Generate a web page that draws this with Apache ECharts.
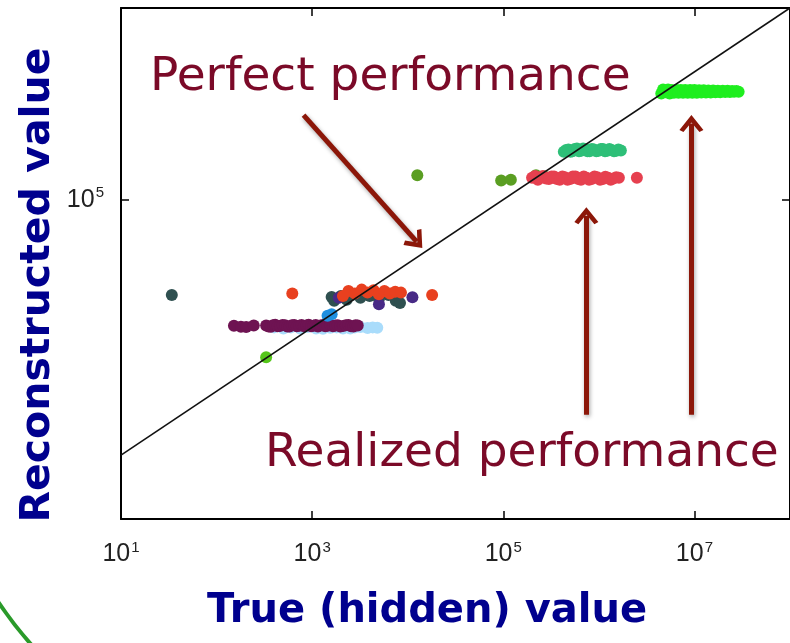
<!DOCTYPE html>
<html>
<head>
<meta charset="utf-8">
<script src="https://cdn.jsdelivr.net/npm/echarts@6/dist/echarts.min.js"></script>
<style>
html,body{margin:0;padding:0;background:#fff;}
#chart{width:790px;height:643px;}
</style>
</head>
<body>
<div id="chart"></div>
<script>
// ---- Data ----
var xTicks = [10, 1e3, 1e5, 1e7];
var yTicks = [1e5];

var perfectLine = [[10, 10], [1e8, 1e8]];

var lightBlue = [[400, 1000], [500, 960], [600, 1000], [750, 960], [900, 1010], [1100, 960], [1300, 950], [1550, 990], [1800, 1000], [2100, 960], [2500, 960], [2800, 1000], [3200, 1010], [3800, 980], [4300, 1000], [4800, 990]];
var purple = [[152, 1060], [180, 1020], [204, 1010], [245, 1070], [330, 1070], [350, 1030], [370, 1020], [390, 1080], [410, 1100], [435, 1040], [460, 1050], [490, 1090], [520, 1080], [550, 1030], [580, 1030], [615, 1080], [650, 1090], [690, 1040], [730, 1060], [775, 1090], [820, 1040], [870, 1070], [920, 1100], [975, 1040], [1030, 1060], [1090, 1090], [1150, 1030], [1220, 1070], [1300, 1090], [1370, 1040], [1450, 1060], [1550, 1090], [1650, 1040], [1750, 1070], [1850, 1080], [1970, 1030], [2100, 1050], [2250, 1080], [2400, 1090], [2550, 1040], [2700, 1030], [2850, 1080], [3000, 1070]];
var blue = [[1450, 1520], [1600, 1600]];
var lime = [[330, 340]];
var darkSlate = [[34, 3200], [1600, 3000], [1700, 2600], [2000, 3100], [2300, 2700], [2600, 3200], [3200, 2900], [4000, 3100], [5000, 2800], [6300, 3200], [7500, 2600], [8300, 2400]];
var indigo = [[1900, 2900], [5000, 2300], [11200, 2950]];
var redOrange = [[620, 3400], [2100, 3100], [2400, 3700], [2800, 3400], [3300, 3900], [3800, 3500], [4400, 3800], [5000, 3300], [5700, 3700], [6500, 3400], [7400, 3600], [8500, 3500], [18000, 3200]];
var olive = [[12600, 2.4e5], [95000, 2.0e5], [120000, 2.05e5], [220000, 2.4e5], [270000, 2.3e5]];
var red = [[2.0e5, 2.2e5], [2.15e5, 2.35e5], [2.3e5, 2.05e5], [2.45e5, 2.2e5], [2.6e5, 2.35e5], [2.8e5, 2.15e5], [3.0e5, 2.1e5], [3.2e5, 2.3e5], [3.4e5, 2.3e5], [3.65e5, 2.1e5], [3.9e5, 2.05e5], [4.15e5, 2.3e5], [4.4e5, 2.25e5], [4.7e5, 2.05e5], [5.0e5, 2.1e5], [5.35e5, 2.3e5], [5.7e5, 2.3e5], [6.1e5, 2.1e5], [6.5e5, 2.05e5], [6.95e5, 2.3e5], [7.4e5, 2.2e5], [7.9e5, 2.05e5], [8.4e5, 2.1e5], [9.0e5, 2.3e5], [9.6e5, 2.25e5], [1.03e6, 2.05e5], [1.1e6, 2.1e5], [1.17e6, 2.28e5], [1.25e6, 2.2e5], [1.33e6, 2.05e5], [1.42e6, 2.15e5], [1.52e6, 2.25e5], [1.62e6, 2.2e5], [2.5e6, 2.2e5]];
var teal = [[4.3e5, 5.6e5], [4.55e5, 6.0e5], [4.8e5, 6.1e5], [5.05e5, 5.6e5], [5.3e5, 5.7e5], [5.6e5, 6.2e5], [5.9e5, 6.3e5], [6.2e5, 5.7e5], [6.5e5, 5.8e5], [6.85e5, 6.3e5], [7.2e5, 6.2e5], [7.6e5, 5.7e5], [8.0e5, 5.7e5], [8.45e5, 6.2e5], [8.9e5, 6.1e5], [9.4e5, 5.7e5], [9.9e5, 5.8e5], [1.05e6, 6.2e5], [1.1e6, 6.2e5], [1.16e6, 5.7e5], [1.22e6, 5.8e5], [1.29e6, 6.2e5], [1.36e6, 6.0e5], [1.44e6, 5.7e5], [1.52e6, 5.8e5], [1.6e6, 6.1e5], [1.7e6, 5.9e5]];
var brightGreen = [[4.5e6, 4.6e6], [4.7e6, 5.3e6], [5.0e6, 4.8e6], [5.3e6, 5.3e6], [5.5e6, 4.6e6], [5.8e6, 5.2e6], [6.1e6, 4.7e6], [6.5e6, 5.2e6], [6.8e6, 4.7e6], [7.2e6, 5.2e6], [7.6e6, 4.7e6], [8.0e6, 5.2e6], [8.5e6, 4.7e6], [9.0e6, 5.2e6], [9.5e6, 4.7e6], [1.0e7, 5.2e6], [1.06e7, 4.7e6], [1.12e7, 5.15e6], [1.18e7, 4.75e6], [1.25e7, 5.15e6], [1.32e7, 4.75e6], [1.4e7, 5.1e6], [1.48e7, 4.75e6], [1.57e7, 5.1e6], [1.66e7, 4.8e6], [1.76e7, 5.05e6], [1.86e7, 4.8e6], [1.98e7, 5.05e6], [2.1e7, 4.85e6], [2.22e7, 5.05e6], [2.35e7, 4.85e6], [2.48e7, 5.0e6], [2.6e7, 4.9e6], [2.75e7, 5.0e6], [2.9e7, 4.9e6]];

// Annotation arrows: [start, end] in data coordinates
var arrowDiag = [[813, 2.1e6], [1.24e4, 2.2e4]];
var arrowMid = [[7.4e5, 43], [7.4e5, 5.6e4]];
var arrowRight = [[9.3e6, 43], [9.3e6, 1.55e6]];

var chart = echarts.init(document.getElementById('chart'), null, {renderer: 'canvas'});

function expLabel(v) {
  return '10{s|' + Math.round(Math.log10(v)) + '}';
}
var tickFont = "'Liberation Sans Narrow', 'Liberation Sans'";
var labelRich = {
  s: {fontSize: 15, fontFamily: tickFont, color: '#222', verticalAlign: 'top', padding: [0, 0, 13, 1]}
};

function sc(name, data, color, z) {
  return {
    type: 'scatter', name: name, data: data, symbolSize: 12, z: z || 2,
    itemStyle: {color: color, opacity: 1}, silent: true
  };
}

var arrowPath = 'path://M0,10 L6,0 L12,10 L10,11.5 L6,5 L2,11.5 Z';
var noteFont = "'DejaVu Sans'";
var titleFont = "'DejaVu Sans'";

var option = {
  animation: false,
  grid: {left: 121, top: 8, right: -7, bottom: 124, show: false},
  xAxis: [{
    type: 'log', logBase: 10, min: 10, max: 1e8, position: 'bottom',
    axisLine: {show: true, onZero: false, lineStyle: {color: '#000', width: 2}},
    axisTick: {show: true, inside: true, length: 8, customValues: xTicks, lineStyle: {color: '#000', width: 1.5}},
    axisLabel: {customValues: xTicks, formatter: expLabel, margin: 21, fontSize: 25, fontFamily: tickFont, color: '#222', rich: labelRich},
    splitLine: {show: false}, minorTick: {show: false}
  }, {
    type: 'log', logBase: 10, min: 10, max: 1e8, position: 'top',
    axisLine: {show: true, onZero: false, lineStyle: {color: '#000', width: 2}},
    axisTick: {show: true, inside: true, length: 8, customValues: xTicks, lineStyle: {color: '#000', width: 1.5}},
    axisLabel: {show: false}, splitLine: {show: false}
  }],
  yAxis: [{
    type: 'log', logBase: 10, min: 1, max: 1e8, position: 'left',
    axisLine: {show: true, onZero: false, lineStyle: {color: '#000', width: 2}},
    axisTick: {show: true, inside: true, length: 8, customValues: yTicks, lineStyle: {color: '#000', width: 1.5}},
    axisLabel: {customValues: yTicks, formatter: expLabel, margin: 17, fontSize: 25, fontFamily: tickFont, color: '#222', rich: labelRich},
    splitLine: {show: false}
  }, {
    type: 'log', logBase: 10, min: 1, max: 1e8, position: 'right',
    axisLine: {show: true, onZero: false, lineStyle: {color: '#000', width: 2}},
    axisTick: {show: true, inside: true, length: 8, customValues: yTicks, lineStyle: {color: '#000', width: 1.5}},
    axisLabel: {show: false}, splitLine: {show: false}
  }],
  series: [
    sc('lightBlue', lightBlue, '#a9dcfb', 2),
    sc('purple', purple, '#6e1352', 3),
    sc('blue', blue, '#1f8fe0', 3),
    sc('lime', lime, '#55c61a', 3),
    sc('darkSlate', darkSlate, '#2f5050', 3),
    sc('indigo', indigo, '#482a86', 4),
    sc('redOrange', redOrange, '#e8401f', 4),
    sc('olive', olive, '#5a9e22', 4),
    sc('red', red, '#e6404f', 5),
    sc('teal', teal, '#2ebf78', 5),
    sc('brightGreen', brightGreen, '#1fee1f', 5),
    {
      type: 'line', data: perfectLine, symbol: 'none', z: 10, silent: true,
      lineStyle: {color: '#111', width: 1.6},
      markLine: {
        silent: true, animation: false,
        symbol: ['none', arrowPath], symbolSize: [24, 17],
        label: {show: false},
        lineStyle: {color: '#8c1709', width: 5, type: 'solid', opacity: 1,
          shadowBlur: 4, shadowColor: 'rgba(0,0,0,0.35)', shadowOffsetX: 1, shadowOffsetY: 2},
        emphasis: {disabled: true},
        data: [
          [{coord: arrowDiag[0]}, {coord: arrowDiag[1]}],
          [{coord: arrowMid[0]}, {coord: arrowMid[1]}],
          [{coord: arrowRight[0]}, {coord: arrowRight[1]}]
        ]
      }
    }
  ],
  graphic: [
    {type: 'text', left: 150, top: 54, z: 20, silent: true,
      style: {text: 'Perfect performance', font: '47px ' + noteFont, fill: '#7b0a28'}},
    {type: 'text', left: 265, top: 430, z: 20, silent: true,
      style: {text: 'Realized performance', font: '47px ' + noteFont, fill: '#7b0a28'}},
    {type: 'text', x: 38, y: 285, rotation: Math.PI / 2, z: 20, silent: true,
      style: {text: 'Reconstructed value', font: 'bold 41px ' + titleFont, fill: '#00008e', align: 'center', verticalAlign: 'middle'}},
    {type: 'text', x: 427, y: 612, z: 20, silent: true,
      style: {text: 'True (hidden) value', font: 'bold 40px ' + titleFont, fill: '#00008e', align: 'center', verticalAlign: 'middle'}},
    {type: 'arc', z: 20, silent: true,
      shape: {cx: 330, cy: 380, r: 399, startAngle: 2.3, endAngle: 2.75},
      style: {stroke: '#2a9a2a', lineWidth: 4, fill: 'none'}}
  ]
};
chart.setOption(option);
</script>
</body>
</html>
